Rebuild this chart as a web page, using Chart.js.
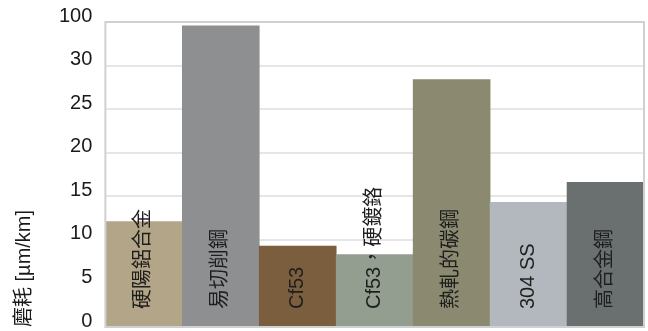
<!DOCTYPE html>
<html>
<head>
<meta charset="utf-8">
<script src="https://cdn.jsdelivr.net/npm/chart.js@4/dist/chart.umd.min.js"></script>
<style>
html,body{margin:0;padding:0;background:#fff;}
#wrap{width:648px;height:331px;position:relative;}
</style>
</head>
<body>
<div id="wrap"><canvas id="c" width="648" height="331"></canvas></div>
<script>
// Data
const categories = ["硬陽鋁合金", "易切削鋼", "Cf53", "Cf53，硬鍍鉻", "熱軋的碳鋼", "304 SS", "高合金鋼"];
const wearValues = [12.1, 94, 9.3, 8.3, 28.4, 14.3, 16.6]; // µm/km
const barColors = ["#b3a587", "#8e8f91", "#7b5e3e", "#939d90", "#8b8a70", "#b2b8bd", "#6a7070"];
const tickValues = [0, 5, 10, 15, 20, 25, 30, 100];
const yTitle = "磨耗 [µm/km]";

// Broken axis: linear up to 30, then 30..100 compressed into one step of 5
const BREAK = 30, TOP = 100, STEP = 5;
function toAxis(v){ return v <= BREAK ? v : BREAK + (v - BREAK) / (TOP - BREAK) * STEP; }
function fromAxis(a){ return a <= BREAK ? a : BREAK + (a - BREAK) / STEP * (TOP - BREAK); }

const FONT = "'Liberation Sans', Arial, 'Noto Sans CJK TC', sans-serif";

const frame = {
  id: 'frame',
  afterDraw(chart){
    const {ctx, chartArea:a} = chart;
    ctx.save();
    ctx.strokeStyle = '#d0d0d0';
    ctx.lineWidth = 2;
    ctx.strokeRect(a.left, a.top, a.right - a.left, a.bottom - a.top);
    ctx.restore();
  }
};

const barLabels = {
  id: 'barLabels',
  afterDatasetsDraw(chart){
    const {ctx} = chart;
    const meta = chart.getDatasetMeta(0);
    const y0 = chart.scales.y.getPixelForValue(0);
    ctx.save();
    ctx.fillStyle = '#1e1e1e';
    ctx.font = "20px " + FONT;
    ctx.textAlign = 'left';
    ctx.textBaseline = 'middle';
    meta.data.forEach((bar, i) => {
      ctx.save();
      ctx.translate(bar.x, y0 - 18);
      ctx.rotate(-Math.PI / 2);
      ctx.fillText(categories[i], 0, 0);
      ctx.restore();
    });
    ctx.restore();
  }
};

new Chart(document.getElementById('c'), {
  type: 'bar',
  data: {
    labels: categories,
    datasets: [{
      data: wearValues.map(toAxis),
      backgroundColor: barColors,
      borderWidth: 0,
      barPercentage: 1,
      categoryPercentage: 1
    }]
  },
  options: {
    responsive: false,
    animation: false,
    devicePixelRatio: 1,
    layout: { padding: { top: 22, right: 4, bottom: 4, left: 12 } },
    plugins: { legend: { display: false }, tooltip: { enabled: false } },
    scales: {
      x: { display: false },
      y: {
        min: 0,
        max: toAxis(TOP),
        afterBuildTicks(scale){ scale.ticks = tickValues.map(v => ({ value: toAxis(v) })); },
        afterFit(scale){ scale.paddingTop = 0; scale.paddingBottom = 0; },
        ticks: {
          callback: (v) => String(Math.round(fromAxis(v))),
          color: '#1a1a1a',
          font: { family: FONT, size: 20 },
          padding: 13,
          labelOffset: -6
        },
        grid: { color: '#e6e6e6', lineWidth: 2, drawTicks: false },
        border: { display: false },
        title: {
          display: true,
          text: yTitle,
          align: 'start',
          color: '#1a1a1a',
          font: { family: FONT, size: 20 },
          padding: { top: 0, bottom: 10 }
        }
      }
    }
  },
  plugins: [frame, barLabels]
});
</script>
</body>
</html>
